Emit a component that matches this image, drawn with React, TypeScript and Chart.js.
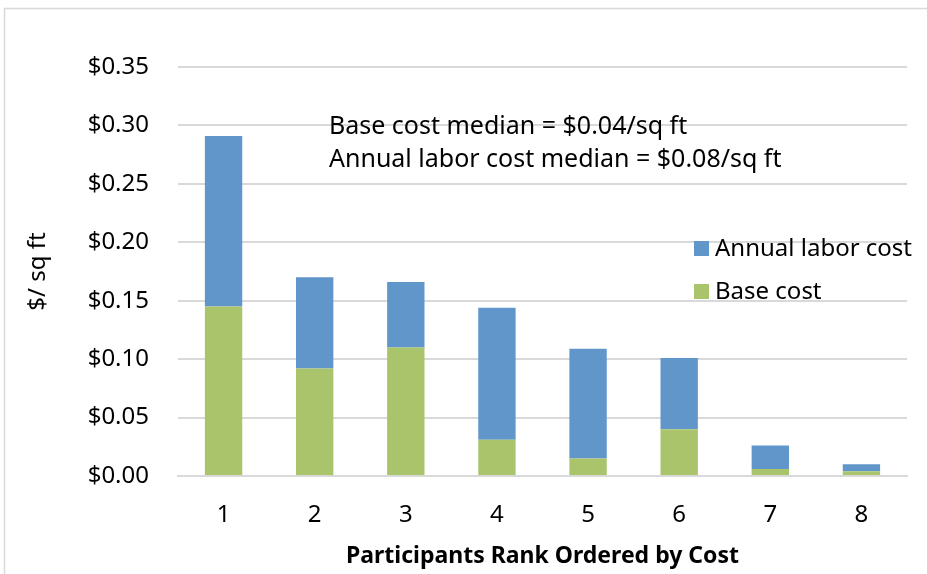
import React, { useEffect, useRef } from "react";
import { Chart, registerables } from "chart.js";

Chart.register(...registerables);

const categories = ["1", "2", "3", "4", "5", "6", "7", "8"];
const baseCost = [0.145, 0.092, 0.11, 0.031, 0.015, 0.04, 0.006, 0.004];
const laborCost = [0.146, 0.078, 0.056, 0.113, 0.094, 0.061, 0.02, 0.006];
const yTicks = [0, 0.05, 0.1, 0.15, 0.2, 0.25, 0.3, 0.35];
const notes = ["Base cost median = $0.04/sq ft", "Annual labor cost median = $0.08/sq ft"];

const BLUE = "#6096CA";
const GREEN = "#A9C46B";
const GRID = "#D9D9D9";
const FONT = "'Noto Sans', sans-serif";

const extras = {
  id: "extras",
  afterDraw(chart: any) {
    const ctx = chart.ctx;
    ctx.save();
    // outer frame
    ctx.strokeStyle = GRID;
    ctx.lineWidth = 1.5;
    ctx.strokeRect(4.5, 8.5, 1200, 1200);
    // notes
    ctx.fillStyle = "#000";
    ctx.font = `25px ${FONT}`;
    ctx.textBaseline = "middle";
    ctx.textAlign = "left";
    ctx.fillText(notes[0], 329, 127);
    ctx.fillText(notes[1], 329, 160);
    // legend
    const items = [
      { label: chart.data.datasets[1].label, color: BLUE, y: 249 },
      { label: chart.data.datasets[0].label, color: GREEN, y: 292 },
    ];
    ctx.font = `24px ${FONT}`;
    for (const it of items) {
      ctx.fillStyle = it.color;
      ctx.fillRect(694, it.y - 8, 15, 15);
      ctx.fillStyle = "#000";
      ctx.fillText(it.label, 715, it.y);
    }
    ctx.restore();
  },
};

export default function App() {
  const ref = useRef<HTMLCanvasElement>(null);
  useEffect(() => {
    const chart = new Chart(ref.current!, {
      type: "bar",
      data: {
        labels: categories,
        datasets: [
          { label: "Base cost", data: baseCost, backgroundColor: GREEN, barPercentage: 0.41, categoryPercentage: 1 },
          { label: "Annual labor cost", data: laborCost, backgroundColor: BLUE, barPercentage: 0.41, categoryPercentage: 1 },
        ],
      },
      options: {
        animation: false,
        responsive: false,
        layout: { padding: { top: 67, right: 20, left: 0, bottom: 0 } },
        plugins: { legend: { display: false }, tooltip: { enabled: false } },
        scales: {
          x: {
            stacked: true,
            grid: { display: false, drawTicks: false },
            border: { display: true, color: GRID, width: 2 },
            ticks: { color: "#000", font: { family: FONT, size: 24 }, padding: 25 },
            title: {
              display: true,
              text: "Participants Rank Ordered by Cost",
              color: "#000",
              font: { family: FONT, size: 23, weight: "bold" },
              padding: { top: 0, bottom: 4 },
            },
            afterFit(scale: any) {
              scale.height = 98;
            },
          },
          y: {
            stacked: true,
            min: 0,
            max: 0.35,
            afterBuildTicks(scale: any) {
              scale.ticks = yTicks.map((v) => ({ value: v }));
            },
            grid: { color: GRID, lineWidth: 2, drawTicks: false },
            border: { display: false },
            ticks: {
              color: "#000",
              font: { family: FONT, size: 24 },
              padding: 29,
              callback: (v: any) => "$" + Number(v).toFixed(2),
            },
            title: {
              display: true,
              text: "$/ sq ft",
              color: "#000",
              font: { family: FONT, size: 24 },
              padding: { top: 24, bottom: 0 },
            },
            afterFit(scale: any) {
              scale.width = 178;
            },
          },
        },
      },
      plugins: [extras],
    } as any);
    return () => chart.destroy();
  }, []);
  return (
    <div style={{ position: "fixed", left: 0, top: 0, width: 927, height: 574, background: "#fff" }}>
      <canvas ref={ref} width={927} height={574} style={{ display: "block" }} />
    </div>
  );
}
